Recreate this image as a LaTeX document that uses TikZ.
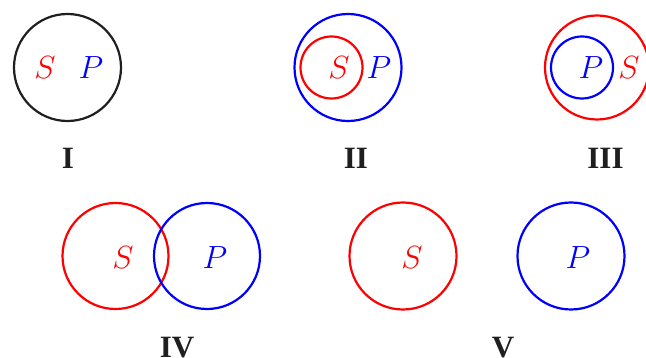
\documentclass[tikz,border=0pt]{standalone}
\usepackage{fontspec}
\newfontfamily\labelfont{Liberation Serif}
\newcommand{\bigmath}[1]{\scalebox{1.29}{$#1$}}
\begin{document}
\begin{tikzpicture}[x=1pt,y=-1pt,
  ring/.style={circle,draw,line width=2.2pt,inner sep=0pt,minimum size=#1},
  letter/.style={inner sep=0pt,font=\Huge},
  roman/.style={inner sep=0pt,font=\labelfont\bfseries\fontsize{31}{36}\selectfont}]
\useasboundingbox (0,0) rectangle (646,358);
\begin{scope}
\clip (0,0) rectangle (646,358);
% I
\node[ring=107pt,draw=black!88] (c1) at (67.5,67.5) {};
\node[letter,text=red] (s1) at (45,68) {\bigmath{S}};
\node[letter,text=blue] (p1) at (91,68) {\bigmath{P}};
\node[roman,text=black!88] (l1) at (68,158.5) {I};
% II
\node[ring=107pt,draw=blue] (c2b) at (348,67.5) {};
\node[ring=62pt,draw=red] (c2r) at (331.5,67.5) {};
\node[letter,text=red] (s2) at (339,68) {\bigmath{S}};
\node[letter,text=blue] (p2) at (379,68) {\bigmath{P}};
\node[roman,text=black!88] (l2) at (356,158.5) {II};
% III
\node[ring=104pt,draw=red] (c3r) at (597,67.5) {};
\node[ring=62pt,draw=blue] (c3b) at (582,67.5) {};
\node[letter,text=blue] (p3) at (591,68) {\bigmath{P}};
\node[letter,text=red] (s3) at (629,68) {\bigmath{S}};
\node[roman,text=black!88] (l3) at (605.5,158.5) {III};
% IV
\node[ring=106pt,draw=red] (c4r) at (115.5,256) {};
\node[ring=106pt,draw=blue] (c4b) at (207,256) {};
\node[letter,text=red] (s4) at (123,258) {\bigmath{S}};
\node[letter,text=blue] (p4) at (215,258) {\bigmath{P}};
\node[roman,text=black!88] (l4) at (177,348) {IV};
% V
\node[ring=107pt,draw=red] (c5r) at (403,256) {};
\node[ring=107pt,draw=blue] (c5b) at (571,256) {};
\node[letter,text=red] (s5) at (412,258) {\bigmath{S}};
\node[letter,text=blue] (p5) at (578,258) {\bigmath{P}};
\node[roman,text=black!88] (l5) at (503,348) {V};
\end{scope}
\end{tikzpicture}
\end{document}
